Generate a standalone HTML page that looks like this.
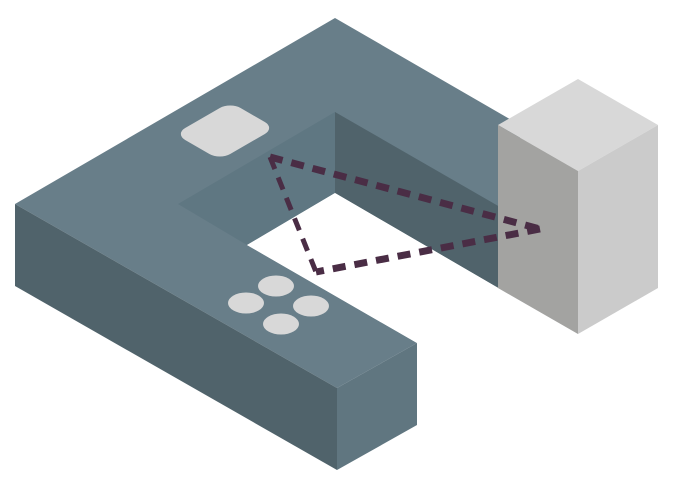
<!DOCTYPE html>
<html><head><meta charset="utf-8"><style>html,body{margin:0;padding:0;background:#fff;}svg{display:block}</style></head>
<body>
<svg width="676" height="489" viewBox="0 0 676 489" xmlns="http://www.w3.org/2000/svg">
<!-- countertop top surface -->
<polygon points="15,204 335,18 520,125 520,300 497,287 335,193 247,245 417,343 337,388" fill="#687e89"/>
<!-- inner shaded region -->
<polygon points="178,204 335,112 335,193 247,245" fill="#5f7782"/>
<!-- inner dark wall -->
<polygon points="335,112 500,207 500,289 335,193" fill="#50636b"/>
<!-- hole -->
<polygon points="247,245 335,193 500,289 500,340 417,343" fill="#fff"/>
<!-- left front face -->
<polygon points="15,204 337,388 337,470 15,286" fill="#50636b"/>
<!-- right end face -->
<polygon points="337,388 417,343 417,425 337,470" fill="#607680"/>
<!-- sink -->
<g transform="translate(225,131) rotate(-30) skewX(30) scale(1,0.866)">
<rect x="-32" y="-26" width="64" height="52" rx="12" fill="#d8d8d8" transform="rotate(0)"/>
</g>
<!-- burners -->
<ellipse cx="276" cy="286" rx="18" ry="10.5" fill="#d8d8d8"/>
<ellipse cx="246" cy="303" rx="18" ry="10.5" fill="#d8d8d8"/>
<ellipse cx="311" cy="306" rx="18" ry="10.5" fill="#d8d8d8"/>
<ellipse cx="281" cy="324" rx="18" ry="10.5" fill="#d8d8d8"/>
<!-- fridge -->
<polygon points="498,125 578,79 658,125 578,171" fill="#d8d8d8"/>
<polygon points="498,125 578,171 578,334 498,288" fill="#a3a3a1"/>
<polygon points="578,171 658,125 658,288 578,334" fill="#cbcbcb"/>
<!-- dashed triangle -->
<g stroke="#4a2d45" stroke-width="7" fill="none" stroke-dasharray="13,9">
<line x1="270" y1="157" x2="540" y2="229"/>
<line x1="540" y1="229" x2="316" y2="272"/>
<line x1="270" y1="157" x2="316" y2="272" stroke-width="5"/>
</g>
</svg>
</body></html>
